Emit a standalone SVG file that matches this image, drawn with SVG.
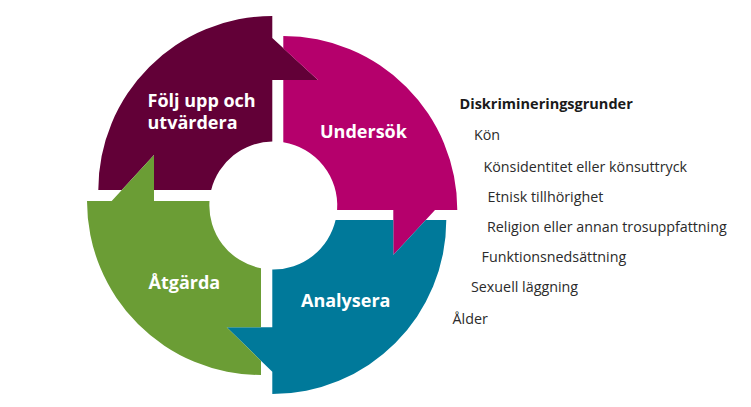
<svg xmlns="http://www.w3.org/2000/svg" width="751" height="407" viewBox="0 0 751 407">
  <style>
    .lbl { font-family: "Open Sans", "Liberation Sans", sans-serif; font-weight: 700; font-size: 18px; fill: #ffffff; }
    .hdr { font-family: "Open Sans", "Liberation Sans", sans-serif; font-weight: 700; font-size: 14.5px; fill: #1a1a1a; }
    .item { font-family: "Open Sans", "Liberation Sans", sans-serif; font-weight: 400; font-size: 14.3px; fill: #2b2b2b; }
  </style>
  <rect width="751" height="407" fill="#ffffff"/>
  <g id="node-folj-upp">
    <path fill="#620037" d="M272.3,16 L272.3,38 L318,80 L272.3,80 L272.3,141.5 A64,64 0 0 0 211.2,190 L154,190 L154,155 L121.8,190 L98.3,190 A174,174 0 0 1 272.3,16 Z"/>
    <text class="lbl" x="147.5" y="106.7">Följ upp och</text>
    <text class="lbl" x="147.5" y="129.3">utvärdera</text>
  </g>
  <g id="node-undersok">
    <path fill="#b5006c" d="M283.3,36 A174,174 0 0 1 457.3,210 L435,210 L393.3,255 L393.3,210 L337.1,210 A64,64 0 0 0 283.3,142.3 L283.3,80 L318,80 L283.3,48.3 Z"/>
    <text class="lbl" x="320" y="138.3">Undersök</text>
  </g>
  <g id="node-analysera">
    <path fill="#00799a" d="M446.3,220 A174,174 0 0 1 272.3,394 L272.3,371.7 L226.7,327.3 L272.3,327.3 L272.3,269.5 A64,64 0 0 0 335.6,220 L393.3,220 L393.3,255 L425.7,220 Z"/>
    <text class="lbl" x="301" y="306.7">Analysera</text>
  </g>
  <g id="node-atgarda">
    <path fill="#6b9d35" d="M261,375 A174,174 0 0 1 87,201 L111.7,201 L154,155 L154,201 L209.5,201 A64,64 0 0 0 261,268.3 L261,327.3 L226.7,327.3 L261,360.7 Z"/>
    <text class="lbl" x="148.5" y="289">Åtgärda</text>
  </g>
  <g id="connectors"></g>
  <g id="legend">
    <text class="hdr" x="459.5" y="109">Diskrimineringsgrunder</text>
    <text class="item" x="474" y="140">Kön</text>
    <text class="item" x="483.5" y="171.7">Könsidentitet eller könsuttryck</text>
    <text class="item" x="487.5" y="201.7">Etnisk tillhörighet</text>
    <text class="item" x="487" y="231.7">Religion eller annan trosuppfattning</text>
    <text class="item" x="481.5" y="261.7">Funktionsnedsättning</text>
    <text class="item" x="471" y="292.3">Sexuell läggning</text>
    <text class="item" x="452.5" y="324">Ålder</text>
  </g>
</svg>
